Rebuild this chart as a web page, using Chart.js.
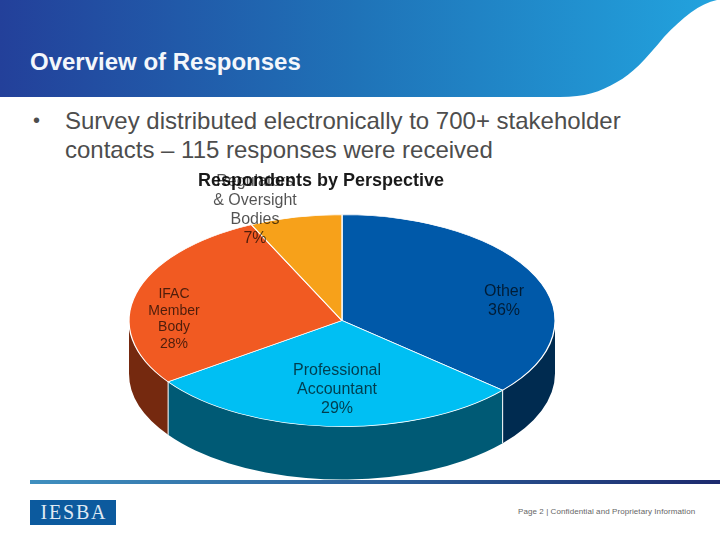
<!DOCTYPE html>
<html>
<head>
<meta charset="utf-8">
<title>Overview of Responses</title>
<script src="https://cdn.jsdelivr.net/npm/chart.js@4/dist/chart.umd.min.js"></script>
<style>
html, body { margin: 0; padding: 0; background: #fff; }
body { position: relative; width: 720px; height: 540px; overflow: hidden; font-family: "Liberation Sans", Arial, sans-serif; }
#band { position: absolute; left: 0; top: 0; }
#heading { position: absolute; left: 30px; top: 48px; font-size: 24px; line-height: 28px; font-weight: bold; color: #f4f7fb; white-space: nowrap; }
#bullet { position: absolute; left: 30px; top: 106px; font-size: 24px; line-height: 29px; color: #4d4d4d; white-space: nowrap; }
#bullet span { position: absolute; left: 3px; top: 0; font-size: 20px; }
#bullet div { margin-left: 35px; }
#rule { position: absolute; left: 30px; top: 480px; width: 690px; height: 4px; background: linear-gradient(to right, #3f8fbf, #2a5c96 55%, #1d2a6e); }
#logo { position: absolute; left: 30px; top: 500px; width: 86px; height: 25px; background: #0c5a9e; color: #dfe9f3; font-family: "Liberation Serif", serif; font-size: 20px; line-height: 25px; text-align: center; letter-spacing: 1.8px; text-indent: 1.8px; }
#foot { position: absolute; left: 518px; top: 506px; font-size: 8px; line-height: 12px; color: #666; letter-spacing: 0.08px; white-space: nowrap; }
#mychart { position: absolute; left: 0; top: 0; }
</style>
</head>
<body>
<svg id="band" width="720" height="97" viewBox="0 0 720 97">
  <defs>
    <linearGradient id="bandfill" x1="0" y1="0" x2="1" y2="0">
      <stop offset="0" stop-color="#23409a"/>
      <stop offset="0.5" stop-color="#1f73b8"/>
      <stop offset="1" stop-color="#22a3de"/>
    </linearGradient>
  </defs>
  <path d="M0 0 H717 C700 3 682 18 664 37 C645 60 632 74 617 82 C600 92 585 97 560 97 H0 Z" fill="url(#bandfill)"/>
</svg>
<div id="heading">Overview of Responses</div>
<div id="bullet"><span>•</span><div>Survey distributed electronically to 700+ stakeholder<br>contacts – 115 responses were received</div></div>
<div id="rule"></div>
<div id="logo">IESBA</div>
<div id="foot">Page 2 | Confidential and Proprietary Information</div>
<canvas id="mychart" width="720" height="540"></canvas>
<script>
const chartTitle = 'Respondents by Perspective';
const categories = ['Other', 'Professional Accountant', 'IFAC Member Body', 'Regulators & Oversight Bodies'];
const values = [36.4, 28.8, 27.8, 7];
const percentLabels = ['36%', '29%', '28%', '7%'];
const labelLines = [['Other'], ['Professional', 'Accountant'], ['IFAC', 'Member', 'Body'], ['Regulators', '& Oversight', 'Bodies']];
const sliceColors = ['#0059a9', '#00bff3', '#f15a22', '#f7a11a'];
const sideColors = ['#002b50', '#005a75', '#75290f', '#75500d'];

// pie is squashed into an ellipse with a canvas transform
const pieWide = 213;
const pieTall = 106;
const pieDepth = 53;

// where the label blocks sit on the slide
const labelCenters = [[504, 301.5], [337, 390], [174, 319], [255, 210.5]];
const labelFonts = [16, 16, 14, 16];
const labelGaps = [19, 19, 16.7, 19];

const pie3d = {
    id: 'pie3d',
    afterLayout(chart) {
        // title sits left of the pie centre on the slide
        chart.titleBlock.left -= 21;
        chart.titleBlock.right -= 21;
    },
    beforeDatasetsDraw(chart) {
        const ctx = chart.ctx;
        const arcs = chart.getDatasetMeta(0).data;
        const cx = arcs[0].x, cy = arcs[0].y;
        ctx.save();
        arcs.forEach(function (arc, i) {
            // only the front half of the rim can be seen
            const a1 = Math.max(arc.startAngle, 0);
            const a2 = Math.min(arc.endAngle, Math.PI);
            if (a2 <= a1) return;
            ctx.beginPath();
            ctx.ellipse(cx, cy, pieWide, pieTall, 0, a1, a2);
            ctx.ellipse(cx, cy + pieDepth, pieWide, pieTall, 0, a2, a1, true);
            ctx.closePath();
            ctx.fillStyle = sideColors[i];
            ctx.fill();
        });
        // white seams on the rim
        ctx.strokeStyle = '#fff';
        ctx.lineWidth = 1;
        arcs.forEach(function (arc) {
            if (arc.endAngle > 0 && arc.endAngle < Math.PI) {
                const px = cx + pieWide * Math.cos(arc.endAngle);
                const py = cy + pieTall * Math.sin(arc.endAngle);
                ctx.beginPath();
                ctx.moveTo(px, py);
                ctx.lineTo(px, py + pieDepth);
                ctx.stroke();
            }
        });
        ctx.restore();
        const r = arcs[0].outerRadius;
        ctx.save();
        ctx.translate(cx, cy);
        ctx.scale(pieWide / r, pieTall / r);
        ctx.translate(-cx, -cy);
    },
    afterDatasetsDraw(chart) {
        const ctx = chart.ctx;
        ctx.restore();
        ctx.save();
        ctx.fillStyle = 'rgba(0, 0, 0, 0.68)';
        ctx.textAlign = 'center';
        ctx.textBaseline = 'middle';
        labelLines.forEach(function (lines, i) {
            const all = lines.concat(percentLabels[i]);
            ctx.font = labelFonts[i] + 'px "Liberation Sans", Arial, sans-serif';
            all.forEach(function (line, k) {
                const y = labelCenters[i][1] + (k - (all.length - 1) / 2) * labelGaps[i];
                ctx.fillText(line, labelCenters[i][0], y);
            });
        });
        ctx.restore();
    }
};

const mychart = new Chart(document.getElementById('mychart'), {
    type: 'pie',
    plugins: [pie3d],
    data: {
        labels: categories,
        datasets: [{
            data: values,
            backgroundColor: sliceColors,
            borderColor: '#fff',
            borderWidth: 0.8,
            clip: false
        }]
    },
    options: {
        responsive: false,
        animation: false,
        layout: {
            padding: { left: 84, right: 120, top: 0, bottom: 90.4 }
        },
        plugins: {
            legend: { display: false },
            tooltip: { enabled: false },
            title: {
                display: true,
                text: chartTitle,
                color: '#1a1a1a',
                font: { family: '"Liberation Sans", Arial, sans-serif', size: 18, weight: 'bold', lineHeight: 1.2 },
                padding: { top: 170, bottom: 0 }
            }
        }
    }
});
</script>
</body>
</html>
